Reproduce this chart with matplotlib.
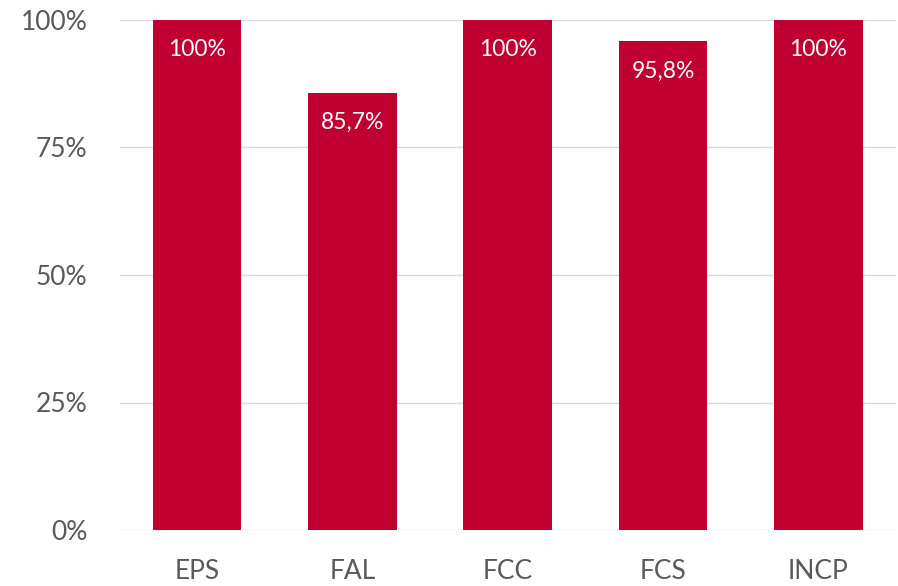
import matplotlib
matplotlib.use("Agg")
import matplotlib.pyplot as plt

categories = ["EPS", "FAL", "FCC", "FCS", "INCP"]
values = [100, 85.7, 100, 95.8, 100]
labels = ["100%", "85,7%", "100%", "95,8%", "100%"]
yticks = [0, 25, 50, 75, 100]
yticklabels = ["0%", "25%", "50%", "75%", "100%"]

plt.rcParams['font.family'] = ['Lato', 'DejaVu Sans']

fig = plt.figure(figsize=(8.98, 5.86), dpi=100)
ax = fig.add_axes([119.5/898, 1-530/586, (896-119.5)/898, (530-20)/586])

x = range(len(categories))
bars = ax.bar(x, values, width=0.57, color="#C00030", zorder=3)
for b, lab in zip(bars, labels):
    ax.annotate(lab, (b.get_x()+b.get_width()/2, b.get_height()),
                xytext=(0, -21.5), textcoords="offset points",
                ha="center", va="center", color="white", fontsize=16.5)

ax.set_xlim(-0.5, len(categories)-0.5)
ax.set_ylim(0, 100)
ax.set_yticks(yticks)
ax.set_yticklabels(yticklabels)
ax.set_xticks(list(x))
ax.set_xticklabels(categories)
ax.yaxis.grid(True, color="#D9D9D9", linewidth=1, zorder=0)
for s in ax.spines.values():
    s.set_visible(False)
ax.tick_params(axis="both", length=0, labelsize=19, colors="#595959")
ax.tick_params(axis="y", pad=23)
ax.tick_params(axis="x", pad=21)

fig.savefig("out.png", dpi=100, facecolor="white")
